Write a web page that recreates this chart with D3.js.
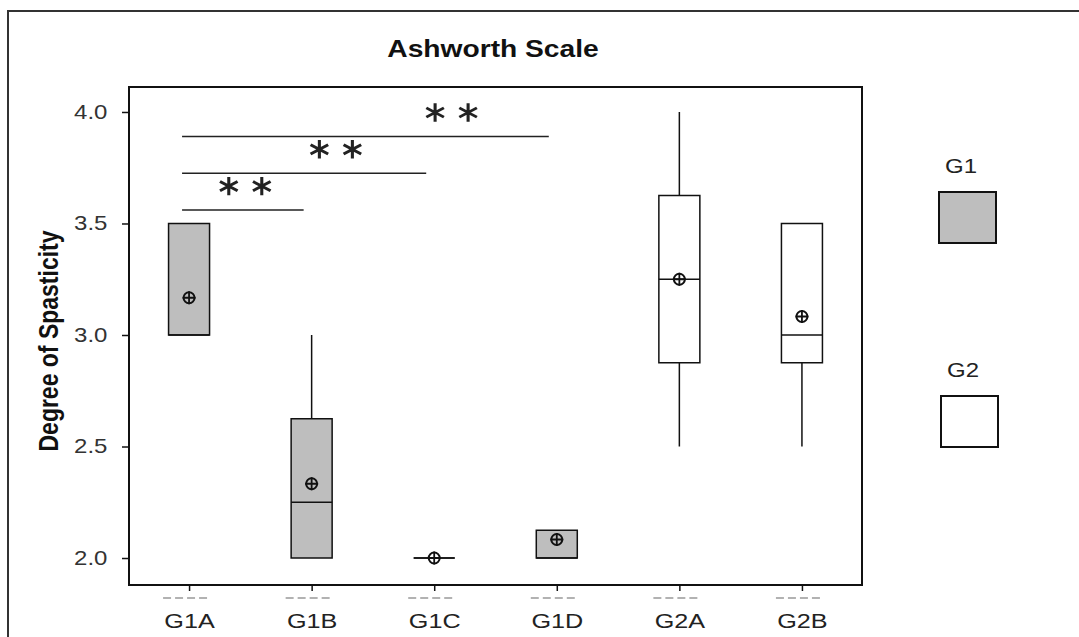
<!DOCTYPE html>
<html>
<head>
<meta charset="utf-8">
<script src="https://cdn.jsdelivr.net/npm/d3@7"></script>
<style>
  body { margin: 0; background: #fff; }
  svg { display: block; font-family: Arial, "Liberation Sans", sans-serif; }
</style>
</head>
<body>
<svg id="chart" width="1079" height="637"></svg>
<script>
// ashworth box plot
const groups = ['G1A', 'G1B', 'G1C', 'G1D', 'G2A', 'G2B'];
const series = ['G1', 'G1', 'G1', 'G1', 'G2', 'G2'];
const q1 = [3.0, 2.0, 2.0, 2.0, 2.875, 2.875];
const medians = [3.0, 2.25, 2.0, 2.0, 3.25, 3.0];
const q3 = [3.5, 2.625, 2.0, 2.125, 3.625, 3.5];
const whiskLow = [3.0, 2.0, 2.0, 2.0, 2.5, 2.5];
const whiskHigh = [3.5, 3.0, 2.0, 2.125, 4.0, 3.5];
const means = [3.167, 2.333, 2.0, 2.083, 3.25, 3.083];

const yTicks = [2.0, 2.5, 3.0, 3.5, 4.0];

// significance brackets, all starting at G1A
const sigTo = ['G1B', 'G1C', 'G1D'];
const sigLevel = [3.56, 3.725, 3.89];
const sigStarAt = [0.52, 0.63, 0.735];

const legendKeys = ['G1', 'G2'];
const fills = { G1: '#bebebe', G2: '#ffffff' };

const SX = 1.2; // source picture is stretched sideways

const svg = d3.select('#chart');
const plot = { left: 129, top: 87, right: 862, bottom: 585 };

const x = d3.scalePoint().domain(groups).range([plot.left, plot.right]).padding(0.49);
const y = d3.scaleLinear().domain([1.879, 4.112]).range([plot.bottom, plot.top]);

// outer frame (only top and left survive in the picture)
svg.append('path')
    .attr('d', 'M8,637V11H1079')
    .attr('fill', 'none').attr('stroke', '#333').attr('stroke-width', 2);

// title
svg.append('g').attr('transform', 'translate(493,57)')
  .append('text')
    .attr('transform', `scale(${SX},1)`)
    .attr('text-anchor', 'middle')
    .attr('font-size', 23.5).attr('font-weight', 'bold').attr('fill', '#111')
    .text('Ashworth Scale');

// y label
svg.append('g').attr('transform', 'translate(58,341)')
  .append('text')
    .attr('transform', `scale(${SX},1) rotate(-90)`)
    .attr('text-anchor', 'middle')
    .attr('font-size', 23).attr('font-weight', 'bold').attr('fill', '#111')
    .text('Degree of Spasticity');

// plot frame
svg.append('rect')
    .attr('x', plot.left).attr('y', plot.top)
    .attr('width', plot.right - plot.left).attr('height', plot.bottom - plot.top)
    .attr('fill', 'none').attr('stroke', '#111').attr('stroke-width', 2);

// axes
const yAxis = svg.append('g')
    .attr('transform', `translate(${plot.left},0)`)
    .call(d3.axisLeft(y).tickValues(yTicks).tickFormat(d3.format('.1f')).tickSize(7).tickSizeOuter(0));
yAxis.select('.domain').remove();
yAxis.selectAll('line').attr('stroke', '#111').attr('stroke-width', 1.5);
yAxis.selectAll('text')
    .attr('transform', `scale(${SX},1)`)
    .attr('x', -18)
    .attr('font-size', 20).attr('fill', '#333');

const xAxis = svg.append('g')
    .attr('transform', `translate(0,${plot.bottom})`)
    .call(d3.axisBottom(x).tickSize(6).tickSizeOuter(0));
xAxis.select('.domain').remove();
xAxis.selectAll('line').attr('stroke', '#111').attr('stroke-width', 1.5);
xAxis.selectAll('text')
    .attr('transform', `scale(${SX},1)`)
    .attr('y', 28)
    .attr('font-size', 21).attr('fill', '#222');

// faint dashed ghost marks under each tick
svg.append('g').selectAll('line')
  .data(groups)
  .enter().append('line')
    .attr('x1', d => x(d) - 26).attr('x2', d => x(d) + 20)
    .attr('y1', plot.bottom + 13).attr('y2', plot.bottom + 13)
    .attr('stroke', '#999').attr('stroke-width', 1.5).attr('stroke-dasharray', '8,4');

// boxes
const boxW = 41;
const rows = groups.map((g, i) => ({
    g, s: series[i], q1: q1[i], med: medians[i], q3: q3[i],
    lo: whiskLow[i], hi: whiskHigh[i], mean: means[i]
}));

const box = svg.append('g').selectAll('g')
  .data(rows)
  .enter().append('g')
    .attr('transform', d => `translate(${x(d.g)},0)`);

// whiskers
box.append('path')
    .attr('d', d => `M0,${y(d.hi)}V${y(d.q3)}M0,${y(d.q1)}V${y(d.lo)}`)
    .attr('stroke', '#111').attr('stroke-width', 1.5).attr('fill', 'none');

// box body (path so zero-height boxes still show as a line)
box.append('path')
    .attr('d', d => `M${-boxW / 2},${y(d.q3)}H${boxW / 2}V${y(d.q1)}H${-boxW / 2}Z`)
    .attr('fill', d => fills[d.s])
    .attr('stroke', '#111').attr('stroke-width', 1.5);

// median
box.append('line')
    .attr('x1', -boxW / 2).attr('x2', boxW / 2)
    .attr('y1', d => y(d.med)).attr('y2', d => y(d.med))
    .attr('stroke', '#111').attr('stroke-width', 1.5);

// mean marker (circle with cross)
const r = 5.5;
box.append('circle')
    .attr('cy', d => y(d.mean)).attr('r', r)
    .attr('fill', 'none').attr('stroke', '#111').attr('stroke-width', 2);
box.append('path')
    .attr('d', d => `M${-r - 1},${y(d.mean)}H${r + 1}M0,${y(d.mean) - r - 1}V${y(d.mean) + r + 1}`)
    .attr('stroke', '#111').attr('stroke-width', 1.8);

// significance brackets
const sig = sigTo.map((t, i) => ({ to: t, level: sigLevel[i], at: sigStarAt[i] }));
const x0 = x('G1A') - 7;
const sg = svg.append('g').selectAll('g').data(sig).enter().append('g');
sg.append('line')
    .attr('x1', x0).attr('x2', d => x(d.to) - 8)
    .attr('y1', d => y(d.level)).attr('y2', d => y(d.level))
    .attr('stroke', '#222').attr('stroke-width', 1.5);

const star = d3.symbol().type(d3.symbolAsterisk).size(240);
[-16.5, 16.5].forEach(off => {
  sg.append('path')
      .attr('d', star)
      .attr('transform', d => {
        const cx = x0 + (x(d.to) - 8 - x0) * d.at + off;
        return `translate(${cx},${y(d.level) - 24}) scale(1.1,1)`;
      })
      .attr('fill', 'none').attr('stroke', '#222').attr('stroke-width', 2.8);
});

// legend
const legY = [192, 396];
const legX = [939, 941];
const leg = svg.append('g').selectAll('g')
  .data(legendKeys)
  .enter().append('g')
    .attr('transform', (d, i) => `translate(${legX[i]},${legY[i]})`);
leg.append('rect')
    .attr('width', 57).attr('height', 51)
    .attr('fill', d => fills[d])
    .attr('stroke', '#111').attr('stroke-width', 2);
leg.append('g').attr('transform', 'translate(22,-19)')
  .append('text')
    .attr('transform', `scale(${SX},1)`)
    .attr('text-anchor', 'middle')
    .attr('font-size', 20).attr('fill', '#222')
    .text(d => d);
</script>
</body>
</html>
